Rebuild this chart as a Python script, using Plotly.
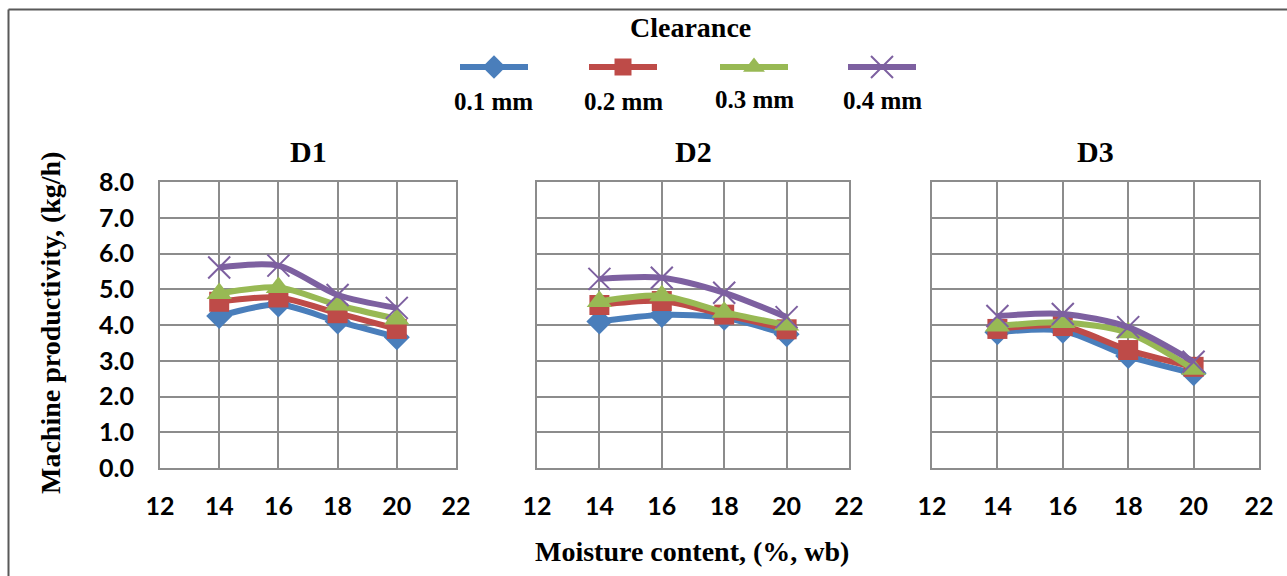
import plotly.graph_objects as go

W, H = 1287, 576

moisture = [14, 16, 18, 20]
panels = ["D1", "D2", "D3"]
series_names = ["0.1 mm", "0.2 mm", "0.3 mm", "0.4 mm"]

# Machine productivity (kg/h) per panel, per clearance
d1_01 = [4.25, 4.57, 4.10, 3.66]
d1_02 = [4.65, 4.77, 4.33, 3.89]
d1_03 = [4.88, 5.05, 4.56, 4.17]
d1_04 = [5.61, 5.66, 4.84, 4.48]

d2_01 = [4.10, 4.28, 4.20, 3.74]
d2_02 = [4.56, 4.67, 4.29, 3.88]
d2_03 = [4.66, 4.82, 4.36, 4.00]
d2_04 = [5.29, 5.32, 4.90, 4.22]

d3_01 = [3.80, 3.84, 3.13, 2.65]
d3_02 = [3.89, 3.97, 3.30, 2.83]
d3_03 = [3.97, 4.07, 3.78, 2.76]
d3_04 = [4.25, 4.31, 3.94, 2.97]

data = [
    [d1_01, d1_02, d1_03, d1_04],
    [d2_01, d2_02, d2_03, d2_04],
    [d3_01, d3_02, d3_03, d3_04],
]

colors = ["#4a7ebb", "#be4b48", "#98b954", "#7d60a0"]
symbols = ["diamond", "square", "triangle-up", "x-thin"]
msizes = [20, 20, 22, 22]
leg_sizes = [18, 17, 19, 22]

x_ticks = [12, 14, 16, 18, 20, 22]
x_ticktext = [f"<b>{v}</b>" for v in x_ticks]
y_ticks = [0, 1, 2, 3, 4, 5, 6, 7, 8]
y_ticktext = [f"<b>{v:.1f}</b>" for v in y_ticks]

# layout (pixels)
panel_px = [(160, 456), (537, 849), (932, 1259)]
plot_top, plot_bot = 182, 468

def px_x(v):
    return v / W

def px_y(v):
    return 1 - v / H

fig = go.Figure()

tick_font = dict(family="Lato", size=25, color="black")
serif = "Liberation Serif"

def note(text, x, y, size, angle=0):
    fig.add_annotation(text=text, xref="paper", yref="paper", x=px_x(x), y=px_y(y),
                       xanchor="center", yanchor="middle", showarrow=False,
                       textangle=angle, font=dict(family=serif, size=size, color="black"))

for pi, (pname, pdata) in enumerate(zip(panels, data)):
    ax = "" if pi == 0 else str(pi + 1)
    for si in range(4):
        fig.add_trace(go.Scatter(
            x=moisture, y=pdata[si], name=series_names[si],
            mode="lines+markers",
            line=dict(color=colors[si], width=6, shape="spline", smoothing=0.8),
            marker=dict(symbol=symbols[si], size=msizes[si], color=colors[si], opacity=1,
                        line=dict(color=colors[si], width=2 if si == 3 else 0)),
            xaxis="x" + ax, yaxis="y" + ax, showlegend=False, cliponaxis=False,
        ))
    x0, x1 = panel_px[pi]
    xa = dict(domain=[px_x(x0), px_x(x1)], range=[12, 22], tickmode="array",
              tickvals=x_ticks, ticktext=x_ticktext,
              showgrid=True, gridcolor="#8c8c8c", gridwidth=2, zeroline=False,
              showline=True, linecolor="#8c8c8c", linewidth=2, mirror=True,
              tickfont=tick_font, ticks="outside", ticklen=15, tickcolor="rgba(0,0,0,0)",
              anchor="y" + ax, fixedrange=True, automargin=False)
    ya = dict(domain=[px_y(plot_bot), px_y(plot_top)], range=[0, 8], tickmode="array",
              tickvals=y_ticks, ticktext=y_ticktext, showticklabels=(pi == 0),
              showgrid=True, gridcolor="#8c8c8c", gridwidth=2, zeroline=False,
              showline=True, linecolor="#8c8c8c", linewidth=2, mirror=True,
              tickfont=tick_font, ticks="outside", ticklen=19, tickcolor="rgba(0,0,0,0)",
              anchor="x" + ax, fixedrange=True, automargin=False)
    fig.layout["xaxis" + ax] = xa
    fig.layout["yaxis" + ax] = ya
    note("<b>" + pname + "</b>", (x0 + x1) / 2, 152, 30)

# custom legend on a hidden overlay axis
leg_centers = [494, 623, 754, 882]
leg_label_y = [101, 101, 99, 100]
half = 34
for si in range(4):
    c = leg_centers[si]
    fig.add_trace(go.Scatter(
        x=[c - half, c, c + half], y=[67, 67, 67], mode="lines+markers",
        line=dict(color=colors[si], width=6),
        marker=dict(symbol=symbols[si], size=[0, leg_sizes[si], 0], color=colors[si], opacity=1,
                    line=dict(color=colors[si], width=2 if si == 3 else 0)),
        xaxis="x4", yaxis="y4", showlegend=False, hoverinfo="skip",
    ))
    note("<b>" + series_names[si] + "</b>", c, leg_label_y[si], 25)
fig.layout["xaxis4"] = dict(domain=[0, 1], range=[0, W], visible=False, fixedrange=True,
                            anchor="y4")
fig.layout["yaxis4"] = dict(domain=[0, 1], range=[H, 0], visible=False, fixedrange=True,
                            anchor="x4")

note("<b>Clearance</b>", 690, 27, 28)
note("<b>Machine productivity, (kg/h)</b>", 50, 323, 28, -90)
note("<b>Moisture content, (%, wb)</b>", 692, 551, 28)

# outer chart border (left and top edges visible)
fig.add_shape(type="line", xref="paper", yref="paper", x0=px_x(8.5), x1=px_x(8.5),
              y0=0, y1=px_y(9.5), line=dict(color="#595959", width=2))
fig.add_shape(type="line", xref="paper", yref="paper", x0=px_x(8.5), x1=1,
              y0=px_y(9.5), y1=px_y(9.5), line=dict(color="#595959", width=2))

fig.update_layout(width=W, height=H, margin=dict(l=0, r=0, t=0, b=0, pad=0),
                  autosize=False,
                  paper_bgcolor="white", plot_bgcolor="rgba(0,0,0,0)", showlegend=False)

fig.write_html("out.html", config={"displayModeBar": False},
               post_script="document.body.style.margin='0px';document.body.style.overflow='hidden';")
